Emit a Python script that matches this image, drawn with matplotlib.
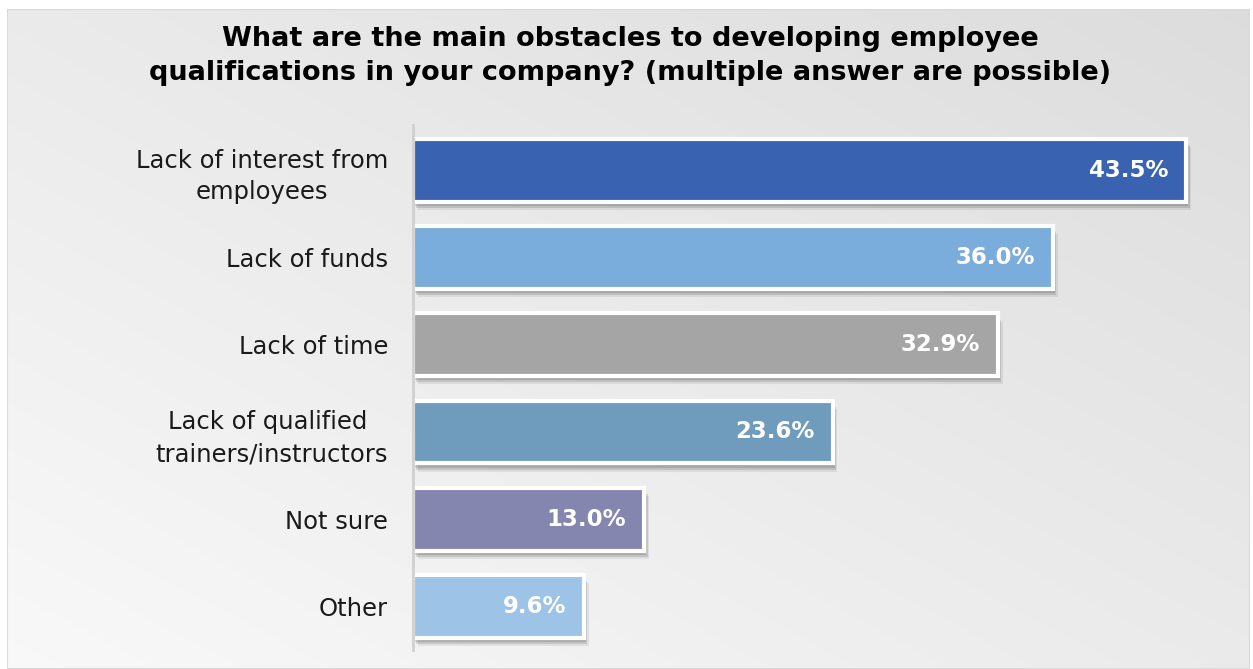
import matplotlib
matplotlib.use("Agg")
import matplotlib.pyplot as plt
import matplotlib.patheffects as pe
import numpy as np
from matplotlib.patches import Rectangle

categories = ["Lack of interest from\nemployees", "Lack of funds", "Lack of time",
              "Lack of qualified \ntrainers/instructors", "Not sure", "Other"]
values = [43.5, 36.0, 32.9, 23.6, 13.0, 9.6]
colors = ["#3963B0", "#7BADDC", "#A5A5A5", "#6F9CBD", "#8486B0", "#9DC3E6"]
title = "What are the main obstacles to developing employee\nqualifications in your company? (multiple answer are possible)"

W, H = 1253, 669
fig = plt.figure(figsize=(W/100, H/100), dpi=100)
fig.patch.set_facecolor("white")

# background gradient panel
bg = fig.add_axes([7/W, 0, (1250-7)/W, (H-9)/H])
bg.set_axis_off()
ny, nx = 200, 400
yy, xx = np.mgrid[0:1:ny*1j, 0:1:nx*1j]
t = (xx*0.6 + yy*0.6) / 1.2
g = np.clip(0.975 - 0.11 * t, 0, 1)
img = np.dstack([g, g, g])
bg.imshow(img, aspect="auto", extent=[0, 1, 0, 1], origin="lower")
bg.add_patch(Rectangle((0, 0), 1, 1, transform=bg.transAxes, fill=False,
                       edgecolor="#d9d9d9", lw=1.5))

left, right = 413, 1213
top, bottom = 125, 650
ax = fig.add_axes([left/W, 1 - bottom/H, (right-left)/W, (bottom-top)/H])
ax.patch.set_alpha(0)
y = np.arange(len(values))
shadow = [pe.SimplePatchShadow(offset=(1.5, -3), shadow_rgbFace="#000000", alpha=0.12),
          pe.SimplePatchShadow(offset=(2.5, -4.5), shadow_rgbFace="#000000", alpha=0.12),
          pe.SimplePatchShadow(offset=(3.5, -6), shadow_rgbFace="#000000", alpha=0.07),
          pe.Normal()]
bars = ax.barh(y, values, height=0.72, color=colors, edgecolor="white", linewidth=3)
for b in bars:
    b.set_path_effects(shadow)
ax.set_xlim(0, 45)
ax.set_ylim(5.5, -0.52)
ax.set_yticks(y)
ax.set_yticklabels(categories, fontsize=17.5, color="#1a1a1a", linespacing=1.4)
for lab in ax.get_yticklabels():
    lab.set_multialignment("center")
ax.tick_params(axis="y", length=0, pad=18)
ax.set_xticks([])
for s in ["top", "right", "bottom"]:
    ax.spines[s].set_visible(False)
ax.spines["left"].set_color("#d0d0d0")
ax.spines["left"].set_linewidth(2)
for v, yi in zip(values, y):
    ax.text(v - 1.0, yi, f"{v:.1f}%", ha="right", va="center", color="white",
            fontsize=16.5, fontweight="bold")

fig.text(630/W, 1 - 56/H, title, ha="center", va="center", fontsize=19.5,
         fontweight="bold", color="black", linespacing=1.38)

fig.savefig("out.png", dpi=100)
